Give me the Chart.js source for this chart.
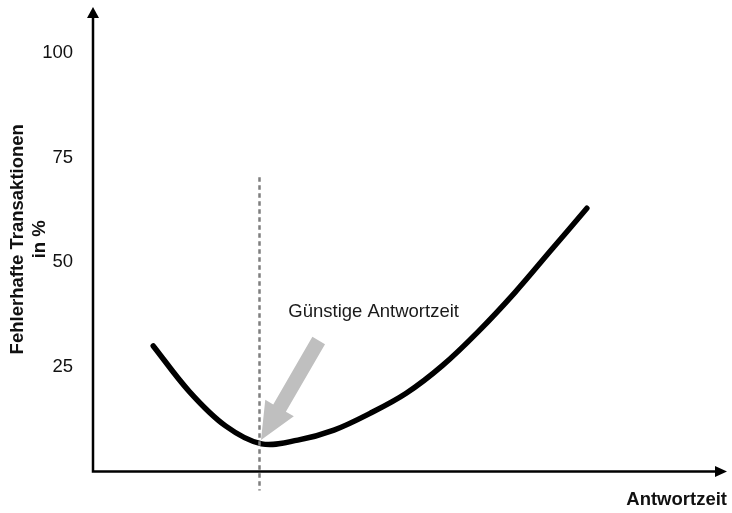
<!DOCTYPE html>
<html>
<head>
<meta charset="utf-8">
<script src="https://cdn.jsdelivr.net/npm/chart.js@4/dist/chart.umd.min.js"></script>
<style>
  body { margin: 0; background: #fff; }
  canvas { display: block; }
</style>
</head>
<body>
<canvas id="myChart" width="732" height="513"></canvas>
<script>
// Antwortzeit (relative Einheiten) und Anteil fehlerhafter Transaktionen in %
const antwortzeit = [9.5, 15.2, 20.9, 26.6, 32.3, 38.0, 43.7, 49.4, 55.1, 60.8, 66.5, 72.2, 77.9];
const fehlerQuote = [30.0, 19.1, 10.9, 6.6, 7.5, 9.9, 13.9, 18.7, 25.3, 33.5, 42.7, 52.8, 62.9];
const yTicks = [25, 50, 75, 100];

// günstige Antwortzeit (Minimum der Kurve)
const optimum = 26.2;
const hinweisText = 'Günstige Antwortzeit';

const schrift = '"Liberation Sans", Arial, sans-serif';

const punkte = antwortzeit.map((x, i) => ({ x: x, y: fehlerQuote[i] }));

// Achsen mit Pfeilspitzen, Markierung und Hinweis
const extras = {
  id: 'extras',
  afterDatasetsDraw(chart) {
    const ctx = chart.ctx;
    const a = chart.chartArea;
    const xs = chart.scales.x;
    const ys = chart.scales.y;
    ctx.save();

    // gestrichelte Linie bei der günstigen Antwortzeit
    const ox = Math.round(xs.getPixelForValue(optimum)) + 0.5;
    ctx.strokeStyle = '#7f7f7f';
    ctx.lineWidth = 2.5;
    ctx.setLineDash([4.5, 3.5]);
    ctx.beginPath();
    ctx.moveTo(ox, ys.getPixelForValue(70.3));
    ctx.lineTo(ox, a.bottom + 19);
    ctx.stroke();
    ctx.setLineDash([]);

    // grauer Pfeil
    const tip = { x: xs.getPixelForValue(26.5), y: ys.getPixelForValue(7.5) };
    const tail = { x: xs.getPixelForValue(35.6), y: ys.getPixelForValue(31.3) };
    const len = Math.hypot(tail.x - tip.x, tail.y - tip.y);
    const u = { x: (tail.x - tip.x) / len, y: (tail.y - tip.y) / len };
    const n = { x: -u.y, y: u.x };
    const base = { x: tip.x + u.x * 37, y: tip.y + u.y * 37 };
    const sw = 7.3, hw = 16.5;
    ctx.fillStyle = '#bfbfbf';
    ctx.beginPath();
    ctx.moveTo(tip.x, tip.y);
    ctx.lineTo(base.x + n.x * hw, base.y + n.y * hw);
    ctx.lineTo(base.x + n.x * sw, base.y + n.y * sw);
    ctx.lineTo(tail.x + n.x * sw, tail.y + n.y * sw);
    ctx.lineTo(tail.x - n.x * sw, tail.y - n.y * sw);
    ctx.lineTo(base.x - n.x * sw, base.y - n.y * sw);
    ctx.lineTo(base.x - n.x * hw, base.y - n.y * hw);
    ctx.closePath();
    ctx.fill();

    // Hinweistext
    ctx.fillStyle = '#1a1a1a';
    ctx.font = '18.5px ' + schrift;
    ctx.textAlign = 'left';
    ctx.textBaseline = 'middle';
    ctx.fillText(hinweisText, xs.getPixelForValue(30.8), ys.getPixelForValue(38.1));

    // Achsen
    ctx.strokeStyle = '#000';
    ctx.fillStyle = '#000';
    ctx.lineWidth = 2.5;
    ctx.beginPath();
    ctx.moveTo(a.left, a.top + 8);
    ctx.lineTo(a.left, a.bottom);
    ctx.lineTo(a.right - 8, a.bottom);
    ctx.stroke();

    ctx.beginPath();
    ctx.moveTo(a.left, a.top);
    ctx.lineTo(a.left - 6, a.top + 11);
    ctx.lineTo(a.left + 6, a.top + 11);
    ctx.closePath();
    ctx.fill();

    ctx.beginPath();
    ctx.moveTo(a.right, a.bottom);
    ctx.lineTo(a.right - 12, a.bottom - 5.5);
    ctx.lineTo(a.right - 12, a.bottom + 5.5);
    ctx.closePath();
    ctx.fill();

    ctx.restore();
  }
};

const config = {
  type: 'line',
  data: {
    datasets: [{
      data: punkte,
      borderColor: '#000',
      borderWidth: 5.5,
      borderCapStyle: 'round',
      borderJoinStyle: 'round',
      tension: 0.35,
      pointRadius: 0,
      fill: false
    }]
  },
  options: {
    responsive: false,
    animation: false,
    layout: { padding: { top: 7, right: 5, left: 0, bottom: 0 } },
    plugins: {
      legend: { display: false },
      tooltip: { enabled: false }
    },
    scales: {
      x: {
        type: 'linear',
        min: 0,
        max: 100,
        grid: { display: false },
        border: { display: false },
        ticks: { display: false },
        title: {
          display: true,
          text: 'Antwortzeit',
          align: 'end',
          color: '#111',
          font: { family: schrift, size: 18.5, weight: 'bold' },
          padding: { top: 0, bottom: 2 }
        },
        afterFit(scale) {
          scale.height = 41.5;
          scale.paddingLeft = 0;
          scale.paddingRight = 0;
        }
      },
      y: {
        type: 'linear',
        min: 0,
        max: 111,
        grid: { display: false, drawTicks: false },
        border: { display: false },
        afterBuildTicks(scale) {
          scale.ticks = yTicks.map(v => ({ value: v }));
        },
        ticks: {
          padding: 20,
          color: '#111',
          font: { family: schrift, size: 18.5 }
        },
        title: {
          display: true,
          text: ['Fehlerhafte Transaktionen', 'in %'],
          color: '#111',
          font: { family: schrift, size: 18.5, weight: 'bold' },
          padding: { top: 6.4, bottom: 0 }
        },
        afterFit(scale) {
          scale.width = 93;
          scale.paddingTop = 0;
          scale.paddingBottom = 0;
        }
      }
    }
  },
  plugins: [extras]
};

const myChart = new Chart(document.getElementById('myChart'), config);
</script>
</body>
</html>
